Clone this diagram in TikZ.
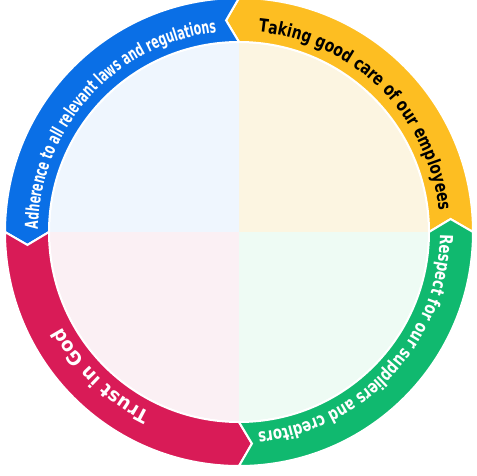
\documentclass[tikz,border=0pt]{standalone}
\usepackage{fontspec}
\usetikzlibrary{decorations.text}
\newfontfamily\bluefnt{DejaVu Sans}[FakeStretch=0.61]
\newfontfamily\yellowfnt{DejaVu Sans}[FakeStretch=0.77]
\newfontfamily\greenfnt{DejaVu Sans}[FakeStretch=0.74]
\newfontfamily\redfnt{DejaVu Sans}[FakeStretch=0.95]
\definecolor{segblue}{HTML}{0A6FE6}
\definecolor{segyellow}{HTML}{FDBE22}
\definecolor{seggreen}{HTML}{10B96F}
\definecolor{segred}{HTML}{D91B57}
\definecolor{paleblue}{HTML}{EFF6FE}
\definecolor{paleyellow}{HTML}{FCF5E1}
\definecolor{palegreen}{HTML}{EEFBF4}
\definecolor{palered}{HTML}{FBF0F4}
\tikzset{
  ringseg/.style={draw=white, line width=2pt, line join=miter},
  ringtext/.style={decorate, decoration={text along path, text align=center, text={#1}}}
}
\begin{document}
\begin{tikzpicture}
\useasboundingbox (0pt,0pt) rectangle (477pt,475pt);
\coordinate (c) at (239pt,243pt);
\begin{scope}[shift={(c)}]
  % pale quadrants
  \fill[paleyellow] (0pt,0pt) -- (0:189pt) arc[start angle=0, end angle=90, radius=189pt] -- cycle;
  \fill[paleblue] (0pt,0pt) -- (90:189pt) arc[start angle=90, end angle=180, radius=189pt] -- cycle;
  \fill[palered] (0pt,0pt) -- (180:189pt) arc[start angle=180, end angle=270, radius=189pt] -- cycle;
  \fill[palegreen] (0pt,0pt) -- (270:189pt) arc[start angle=270, end angle=360, radius=189pt] -- cycle;
  % ring segments
  \foreach \a/\col in {0/segyellow, 90/segblue, 180/segred, 270/seggreen}{
    \filldraw[ringseg, fill=\col]
      (\a:234pt) arc[start angle=\a, end angle=\a+90, radius=234pt]
      -- (\a+93.5:212pt) -- (\a+90:190pt)
      arc[start angle=\a+90, end angle=\a, radius=190pt]
      -- (\a+3.5:212pt) -- cycle;
  }
  % texts
  \path[ringtext={|\bluefnt\bfseries\fontsize{18}{20}\selectfont\color{white}|Adherence to all relevant laws and regulations}]
    (187.8:201pt) arc[start angle=187.8, end angle=87.8, radius=201pt];
  \path[ringtext={|\yellowfnt\bfseries\fontsize{18}{20}\selectfont\color{black}|Taking good care of our employees}]
    (95.25:201pt) arc[start angle=95.25, end angle=-4.75, radius=201pt];
  \path[ringtext={|\greenfnt\bfseries\fontsize{18}{20}\selectfont\color{white}|Respect for our suppliers and creditors}]
    (7.35:201pt) arc[start angle=7.35, end angle=-92.65, radius=201pt];
  \path[ringtext={|\redfnt\bfseries\fontsize{19}{21}\selectfont\color{white}|Trust in God}]
    (276.2:201pt) arc[start angle=276.2, end angle=176.2, radius=201pt];
\end{scope}
\end{tikzpicture}
\end{document}
